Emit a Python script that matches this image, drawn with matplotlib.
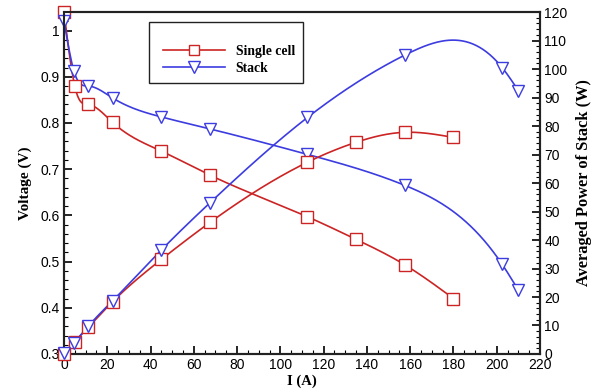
#!/usr/bin/python
# Fuel cell: voltage and averaged power vs current, single cell vs stack

import numpy as np
import matplotlib
matplotlib.use("Agg")
import matplotlib.pyplot as plt
from matplotlib.ticker import MultipleLocator
from matplotlib.lines import Line2D
from matplotlib.patches import Rectangle

#-------------------#
# Data
#-------------------#
i_cell = [0, 5, 11.25, 22.5, 45, 67.5, 112.5, 135, 157.5, 180]
v_cell = [1.04, 0.879, 0.840, 0.801, 0.739, 0.687, 0.597, 0.548, 0.493, 0.420]
p_cell = [0.0, 4.3, 9.4, 18.4, 33.2, 46.2, 67.3, 74.3, 77.8, 76.0]

i_stack = [0, 4.6, 11.25, 22.5, 45, 67.5, 112.5, 157.5, 202.5, 210]
v_stack = [1.021, 0.912, 0.880, 0.854, 0.813, 0.787, 0.732, 0.665, 0.494, 0.438]
p_stack = [0.5, 4.0, 9.8, 18.7, 36.5, 53.1, 83.0, 104.9, 100.5, 92.4]

red = "#cc2424"
blue = "#3c3ce0"


def spline(x, y, n=400):
    # natural cubic spline, just for drawing the smooth line
    x = np.asarray(x, float)
    y = np.asarray(y, float)
    k = len(x)
    h = np.diff(x)
    A = np.zeros((k, k))
    b = np.zeros(k)
    A[0, 0] = A[-1, -1] = 1
    for j in range(1, k - 1):
        A[j, j - 1] = h[j - 1]
        A[j, j] = 2 * (h[j - 1] + h[j])
        A[j, j + 1] = h[j]
        b[j] = 6 * ((y[j + 1] - y[j]) / h[j] - (y[j] - y[j - 1]) / h[j - 1])
    m = np.linalg.solve(A, b)
    xs = np.linspace(x[0], x[-1], n)
    s = np.clip(np.searchsorted(x, xs) - 1, 0, k - 2)
    t = xs - x[s]
    hs = h[s]
    a = (m[s + 1] - m[s]) / (6 * hs)
    bb = m[s] / 2
    c = (y[s + 1] - y[s]) / hs - hs * (2 * m[s] + m[s + 1]) / 6
    return xs, y[s] + c * t + bb * t ** 2 + a * t ** 3


#-------------------#
# Plot
#-------------------#
plt.rcParams['font.family'] = ['Liberation Sans', 'DejaVu Sans']
plt.rcParams['font.size'] = 10

fig = plt.figure(figsize=(5.96, 3.89), dpi=100)
ax = fig.add_axes([0.1074, 0.09, 0.7987, 0.879])
ax2 = ax.twinx()

sizes = {"s": 8, "v": 9}

for axis, series in [(ax, [(i_cell, v_cell, red, "s"), (i_stack, v_stack, blue, "v")]),
                     (ax2, [(i_cell, p_cell, red, "s"), (i_stack, p_stack, blue, "v")])]:
    for xx, yy, c, m in series:
        xs, ys = spline(xx, yy)
        axis.plot(xs, ys, color=c, lw=1.2, zorder=2)
        axis.plot(xx, yy, marker=m, linestyle="none", markersize=sizes[m],
                  markerfacecolor="white", markeredgecolor=c, markeredgewidth=1.0,
                  zorder=3, clip_on=False)

ax.set_xlim(0, 220)
ax.set_ylim(0.3, 1.04)
ax2.set_ylim(0, 120)

ax.xaxis.set_major_locator(MultipleLocator(20))
ax.xaxis.set_minor_locator(MultipleLocator(5))
ax.yaxis.set_minor_locator(MultipleLocator(0.02))
ax2.yaxis.set_major_locator(MultipleLocator(10))
ax2.yaxis.set_minor_locator(MultipleLocator(2))
ax.set_yticks([0.3, 0.4, 0.5, 0.6, 0.7, 0.8, 0.9, 1.0])
ax.set_yticklabels(["0.3", "0.4", "0.5", "0.6", "0.7", "0.8", "0.9", "1"])

for a in (ax, ax2):
    a.tick_params(which="major", direction="in", length=6, width=1.2, pad=3)
    a.tick_params(which="minor", direction="in", length=3, width=0.8)
    for sp in a.spines.values():
        sp.set_linewidth(1.5)
        sp.set_color("#222222")
ax.tick_params(top=False, right=False, which="both")

serif = ['Liberation Serif', 'DejaVu Serif']
ax.set_xlabel("I (A)", family=serif, fontweight="bold", fontsize=10.5, labelpad=2)
ax.set_ylabel("Voltage (V)", family=serif, fontweight="bold", fontsize=11, labelpad=6)
ax2.set_ylabel("Averaged Power of Stack (W)", family=serif, fontweight="bold",
               fontsize=11.8, labelpad=6)

# legend box
fig.patches.append(Rectangle((149 / 596, 1 - 83 / 389), 154 / 596, 61 / 389,
                             transform=fig.transFigure, facecolor="white",
                             edgecolor="#222222", lw=1.0, zorder=5))
handles = [Line2D([], [], color=red, lw=1.2, marker="s", markersize=7,
                  markerfacecolor="white", markeredgecolor=red),
           Line2D([], [], color=blue, lw=1.2, marker="v", markersize=8,
                  markerfacecolor="white", markeredgecolor=blue)]
leg = fig.legend(handles, ["Single cell", "Stack"], loc="upper left",
                 bbox_to_anchor=(156 / 596, 1 - 38 / 389), frameon=False,
                 handlelength=4.6, handletextpad=0.75, borderpad=0, labelspacing=0.3,
                 prop=dict(family=serif, weight="bold", size=9.8))
leg.set_zorder(6)

fig.savefig("out.png", dpi=100)
